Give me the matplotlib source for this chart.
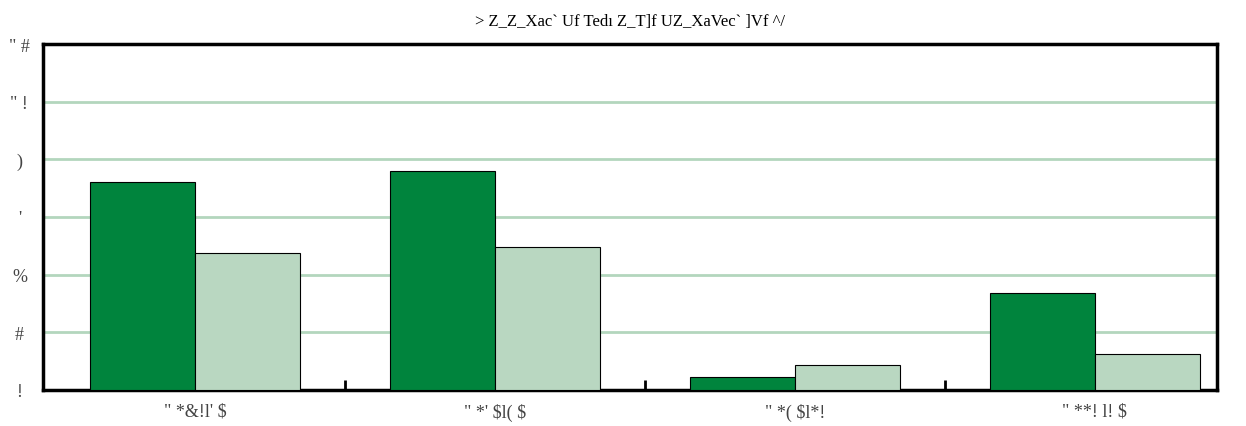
import matplotlib
matplotlib.use("Agg")
import matplotlib.pyplot as plt
import numpy as np

# text as it shows in the reference (font-encoded glyphs)
title = '> Z_Z_Xac` Uf Tedı Z_T]f UZ_XaVec` ]Vf ^/'
periods = ['" *&!l\' $', '" *\' $l( $', '" *( $l*!', '" **! l! $']
ytick_vals = [0, 2, 4, 6, 8, 10, 12]
ytick_text = ['!', '#', '%', "'", ')', '" !', '" #']

series_dark = [7.2, 7.6, 0.45, 3.35]
series_light = [4.75, 4.95, 0.85, 1.25]

dark_green = '#00843d'
light_green = '#b9d7c1'

fig = plt.figure(figsize=(12.46, 4.27), dpi=100)
ax = fig.add_axes([43/1246, 36/427, (1217-43)/1246, (391-45)/427])

x = np.arange(len(periods))
w = 0.35
ax.bar(x - w/2, series_dark, w, color=dark_green, edgecolor='black', linewidth=0.8, zorder=3)
ax.bar(x + w/2, series_light, w, color=light_green, edgecolor='black', linewidth=0.8, zorder=3)

ax.set_ylim(0, 12)
ax.set_xlim(-0.507, 3.407)

ax.set_yticks(ytick_vals)
ax.set_yticklabels(ytick_text, family='Liberation Serif', fontsize=13, color='#444444', parse_math=False)
ax.tick_params(axis='y', length=0, pad=17)
for lab in ax.get_yticklabels():
    lab.set_horizontalalignment('center')
ax.yaxis.grid(True, color='#b3d6bd', linewidth=2, zorder=0)
ax.set_axisbelow(True)

ax.set_xticks(x)
ax.set_xticklabels(periods, family='Liberation Serif', fontsize=13, color='#444444', parse_math=False)
ax.tick_params(axis='x', which='major', length=0, pad=9)
ax.set_xticks([0.5, 1.5, 2.5], minor=True)
ax.tick_params(axis='x', which='minor', direction='in', length=7, width=2, color='black')

for s in ax.spines.values():
    s.set_linewidth(2.5)
    s.set_color('black')

ax.set_title(title, family='Liberation Serif', fontsize=12, pad=14, parse_math=False)

fig.savefig('out.png', dpi=100)
